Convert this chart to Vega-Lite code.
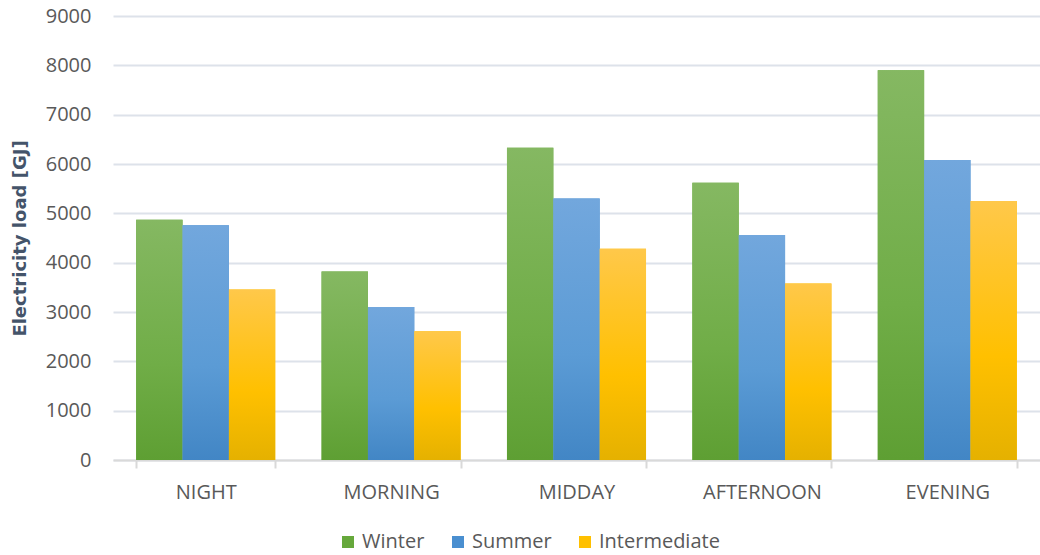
{
  "$schema": "https://vega.github.io/schema/vega-lite/v6.json",
  "autosize": "none",
  "width": 927,
  "height": 444,
  "padding": {"left": 113, "top": 16, "right": 0, "bottom": 95},
  "background": "white",
  "data": {
    "values": [
      {"period": "NIGHT", "season": "Winter", "load": 4870},
      {"period": "NIGHT", "season": "Summer", "load": 4760},
      {"period": "NIGHT", "season": "Intermediate", "load": 3455},
      {"period": "MORNING", "season": "Winter", "load": 3820},
      {"period": "MORNING", "season": "Summer", "load": 3100},
      {"period": "MORNING", "season": "Intermediate", "load": 2610},
      {"period": "MIDDAY", "season": "Winter", "load": 6330},
      {"period": "MIDDAY", "season": "Summer", "load": 5300},
      {"period": "MIDDAY", "season": "Intermediate", "load": 4280},
      {"period": "AFTERNOON", "season": "Winter", "load": 5620},
      {"period": "AFTERNOON", "season": "Summer", "load": 4560},
      {"period": "AFTERNOON", "season": "Intermediate", "load": 3580},
      {"period": "EVENING", "season": "Winter", "load": 7900},
      {"period": "EVENING", "season": "Summer", "load": 6080},
      {"period": "EVENING", "season": "Intermediate", "load": 5250}
    ]
  },
  "encoding": {
    "x": {
      "field": "period",
      "type": "nominal",
      "sort": ["NIGHT", "MORNING", "MIDDAY", "AFTERNOON", "EVENING"],
      "scale": {"paddingInner": 0.25, "paddingOuter": 0.125},
      "axis": {
        "title": null,
        "labelAngle": 0,
        "labelFont": "Open Sans",
        "labelFontSize": 20,
        "labelColor": "#595959",
        "labelPadding": 14,
        "domainColor": "#D9D9D9",
        "domainWidth": 2,
        "tickColor": "#D9D9D9",
        "tickWidth": 2,
        "tickSize": 8,
        "tickBand": "extent",
        "grid": false
      }
    },
    "xOffset": {
      "field": "season",
      "type": "nominal",
      "sort": ["Winter", "Summer", "Intermediate"],
      "scale": {"paddingInner": 0, "paddingOuter": 0}
    },
    "y": {
      "field": "load",
      "type": "quantitative",
      "scale": {"domain": [0, 9000], "nice": false},
      "axis": {
        "title": "Electricity load [GJ]",
        "titleFont": "DejaVu Sans",
        "titleFontSize": 18,
        "titleFontWeight": "bold",
        "titleColor": "#44546A",
        "titlePadding": 16,
        "format": "d",
        "values": [0, 1000, 2000, 3000, 4000, 5000, 6000, 7000, 8000, 9000],
        "labelFont": "Open Sans",
        "labelFontSize": 20,
        "labelColor": "#595959",
        "labelPadding": 22,
        "domain": false,
        "ticks": false,
        "gridColor": "#DDE2EA",
        "gridWidth": 2
      }
    }
  },
  "layer": [
    {
      "mark": {"type": "bar"},
      "encoding": {
        "color": {
          "field": "season",
          "type": "nominal",
          "sort": ["Winter", "Summer", "Intermediate"],
          "scale": {
            "domain": ["Winter", "Summer", "Intermediate"],
            "range": ["#66A83B", "#4A8FD0", "#FFC000"]
          },
          "legend": {
            "title": null,
            "orient": "none",
            "legendX": 225,
            "legendY": 516,
            "direction": "horizontal",
            "symbolType": "square",
            "symbolSize": 144,
            "symbolStrokeWidth": 0,
            "labelFont": "Open Sans",
            "labelFontSize": 20,
            "labelColor": "#595959",
            "columnPadding": 23
          }
        }
      }
    },
    {
      "transform": [{"filter": "datum.season === 'Winter'"}],
      "mark": {"type": "bar", "color": {"gradient": "linear", "x1": 0, "y1": 0, "x2": 0, "y2": 1, "stops": [{"offset": 0, "color": "#85B862"}, {"offset": 0.6, "color": "#70AD47"}, {"offset": 1, "color": "#5E9F33"}]}}
    },
    {
      "transform": [{"filter": "datum.season === 'Summer'"}],
      "mark": {"type": "bar", "color": {"gradient": "linear", "x1": 0, "y1": 0, "x2": 0, "y2": 1, "stops": [{"offset": 0, "color": "#72A7DD"}, {"offset": 0.6, "color": "#5B9BD5"}, {"offset": 1, "color": "#4286C5"}]}}
    },
    {
      "transform": [{"filter": "datum.season === 'Intermediate'"}],
      "mark": {"type": "bar", "color": {"gradient": "linear", "x1": 0, "y1": 0, "x2": 0, "y2": 1, "stops": [{"offset": 0, "color": "#FFC84A"}, {"offset": 0.6, "color": "#FFC000"}, {"offset": 1, "color": "#E5B100"}]}}
    }
  ],
  "config": {"view": {"stroke": null}}
}
